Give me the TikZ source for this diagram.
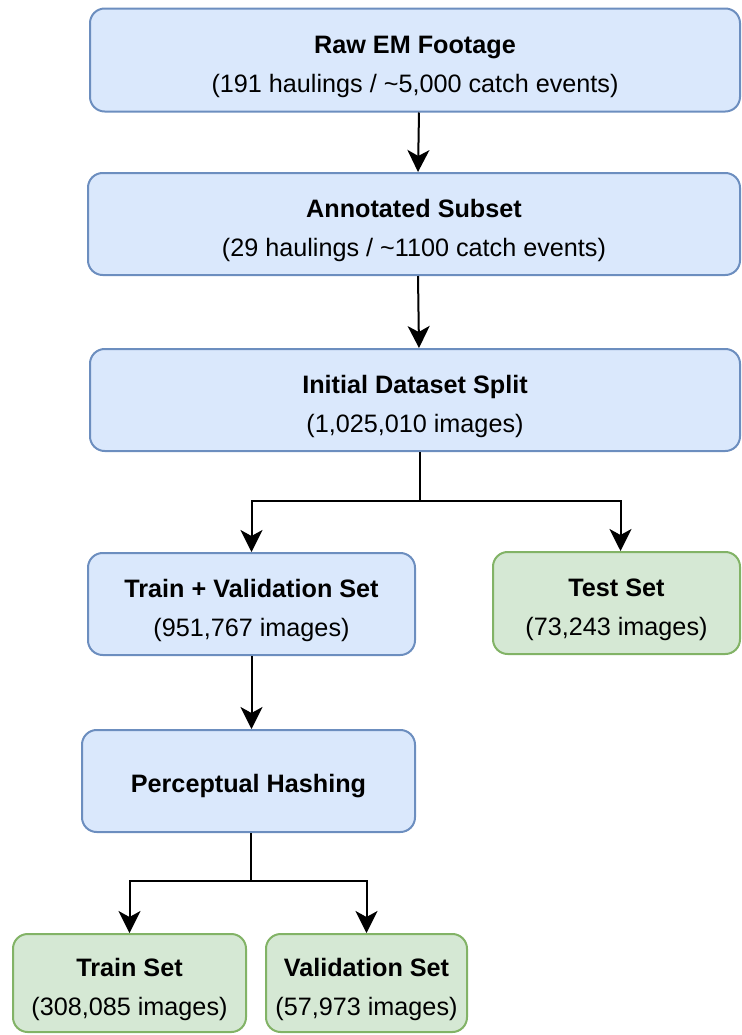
\documentclass[tikz,border=0pt]{standalone}
\usepackage{fontspec}
\setmainfont{Liberation Sans}
\usetikzlibrary{arrows.meta,calc}

\definecolor{bluefill}{HTML}{DAE8FC}
\definecolor{bluedraw}{HTML}{6C8EBF}
\definecolor{greenfill}{HTML}{D5E8D4}
\definecolor{greendraw}{HTML}{82B366}

% invisible rule that lowers the text block a little inside each box
\newcommand\boxstrut[1][23pt]{\rule{0pt}{#1}}

\tikzset{
  box/.style={rectangle, rounded corners=11pt, line width=1.5pt,
    align=center, inner sep=0pt, font=\fontsize{18.9}{29}\selectfont},
  bluebox/.style={box, draw=bluedraw, fill=bluefill},
  greenbox/.style={box, draw=greendraw, fill=greenfill},
  link/.style={line width=1.5pt, black},
  arr/.style={link, -{Stealth[length=16.5pt, width=16.5pt, inset=4.5pt]}},
}

\begin{document}
\begin{tikzpicture}[x=0.75pt, y=-0.75pt]
  \useasboundingbox (0,0) rectangle (742,1035);

  % pipeline stages
  \node[bluebox, minimum width=650*0.75pt, minimum height=103*0.75pt] (raw) at (415,60)
    {\boxstrut\textbf{Raw EM Footage}\\(191 haulings / \textasciitilde5,000 catch events)};
  \node[bluebox, minimum width=652*0.75pt, minimum height=102*0.75pt] (annot) at (414,224)
    {\boxstrut\textbf{Annotated Subset}\\(29 haulings / \textasciitilde1100 catch events)};
  \node[bluebox, minimum width=650*0.75pt, minimum height=102*0.75pt] (split) at (415,400)
    {\boxstrut\textbf{Initial Dataset Split}\\(1,025,010 images)};
  \node[bluebox, minimum width=327*0.75pt, minimum height=102*0.75pt] (trainval) at (251.5,604)
    {\boxstrut\textbf{Train + Validation Set}\\(951,767 images)};
  \node[greenbox, minimum width=247*0.75pt, minimum height=102*0.75pt] (test) at (616.5,603)
    {\boxstrut\textbf{Test Set}\\(73,243 images)};
  \node[bluebox, minimum width=333*0.75pt, minimum height=102*0.75pt] (hash) at (248.5,781)
    {\boxstrut[21pt]\textbf{Perceptual Hashing}};
  \node[greenbox, minimum width=233*0.75pt, minimum height=98*0.75pt] (train) at (129.5,983)
    {\boxstrut\textbf{Train Set}\\(308,085 images)};
  \node[greenbox, minimum width=201*0.75pt, minimum height=98*0.75pt] (val) at (366.5,983)
    {\boxstrut\textbf{Validation Set}\\(57,973 images)};

  % straight links
  \draw[arr] ([xshift=3pt]raw.south) -- ([xshift=3pt]annot.north);
  \draw[arr] ([xshift=3pt]annot.south) -- ([xshift=3pt]split.north);
  \draw[arr] (trainval.south) -- (trainval.south |- hash.north);

  % first fork: train/validation vs test
  \coordinate (splitout) at ([xshift=3.75pt]split.south);
  \coordinate (fork1) at ($(splitout)+(0,49)$);
  \draw[link] (splitout) -- (fork1);
  \draw[arr] (fork1) -| (trainval.north);
  \draw[arr] (fork1) -| ([xshift=3pt]test.north);

  % second fork: train vs validation
  \coordinate (hashout) at ([xshift=1.5pt]hash.south);
  \coordinate (fork2) at ($(hashout)+(0,48)$);
  \draw[link] (hashout) -- (fork2);
  \draw[arr] (fork2) -| (train.north);
  \draw[arr] (fork2) -| (val.north);
\end{tikzpicture}
\end{document}
